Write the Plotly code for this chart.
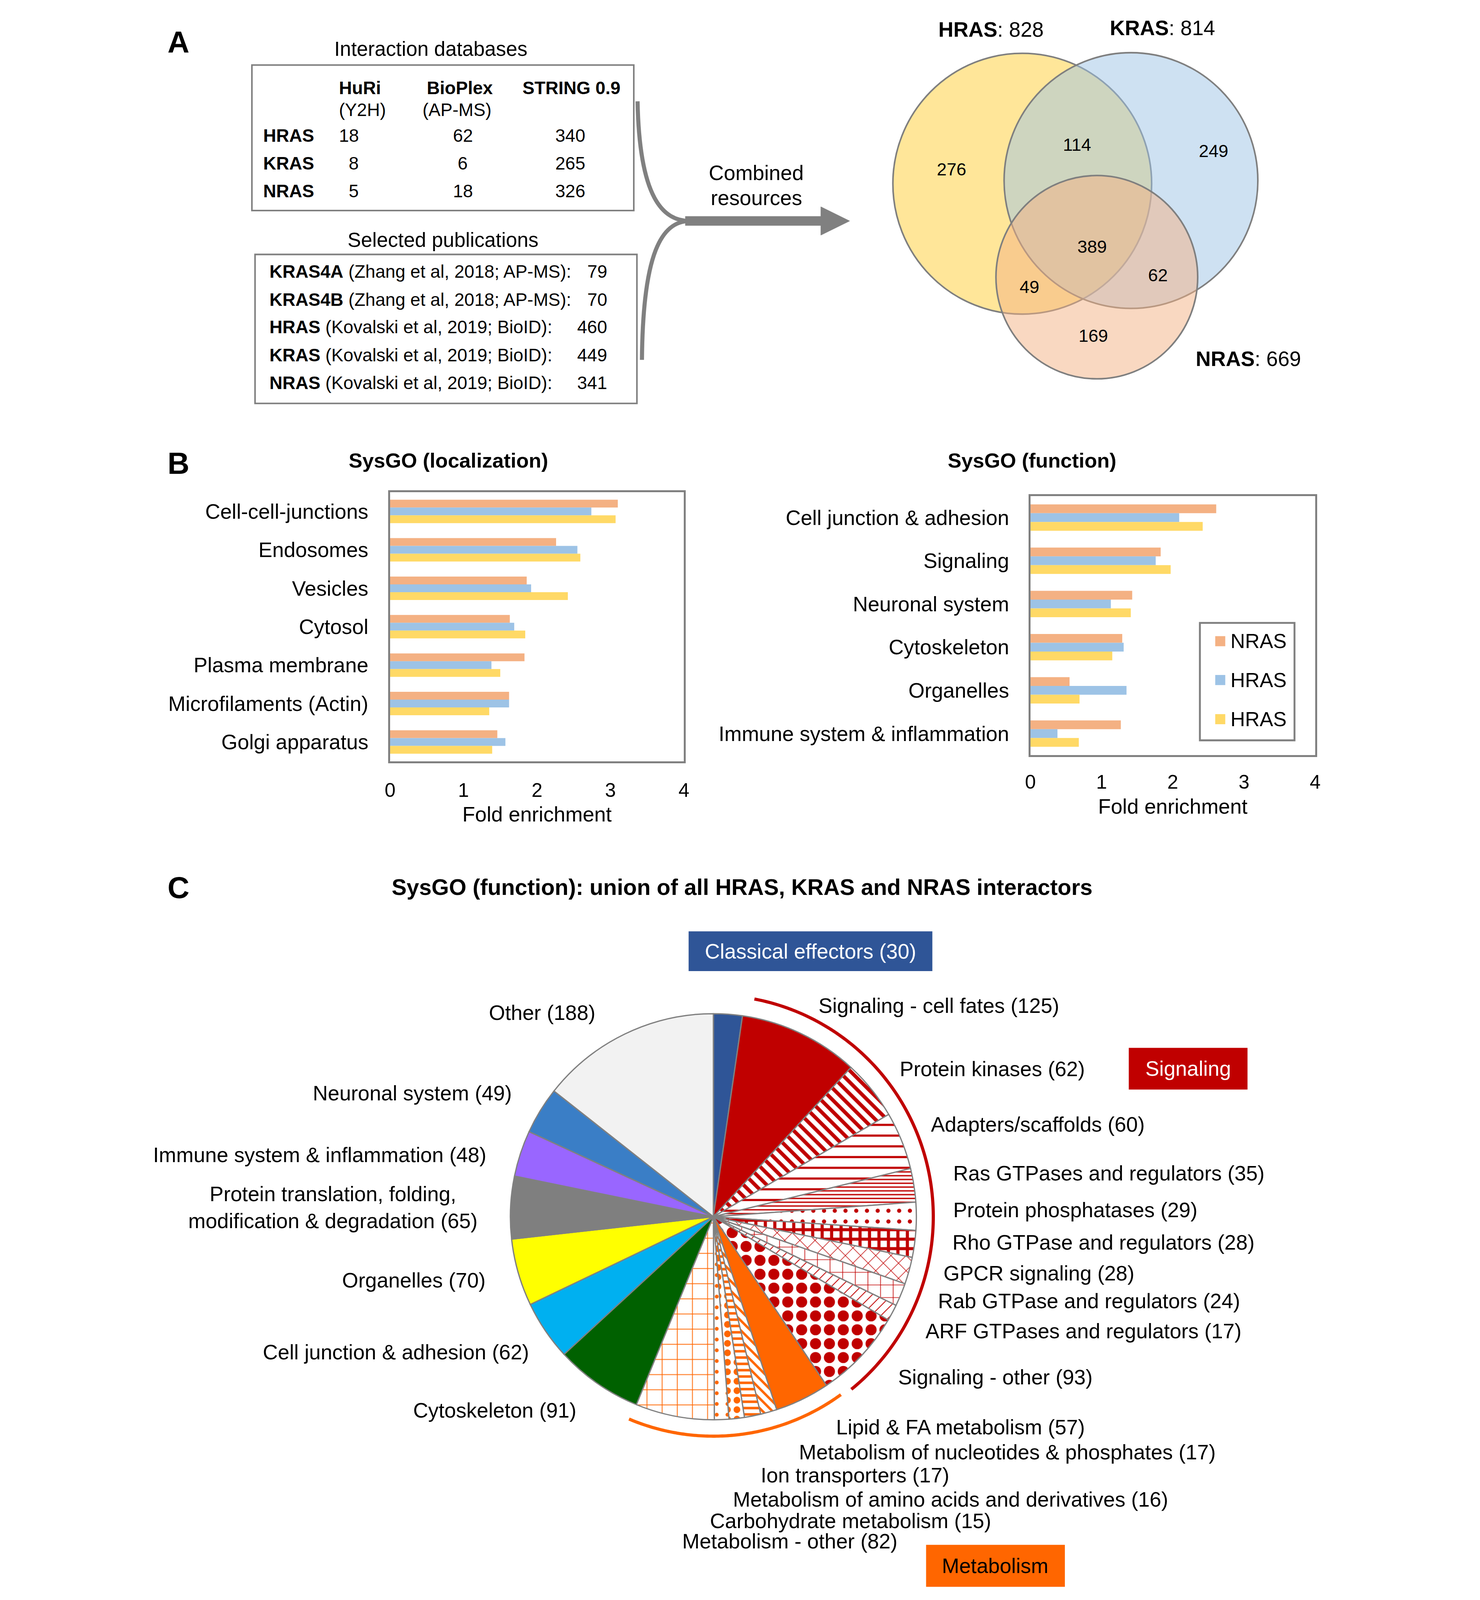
import numpy as np
import plotly.graph_objects as go

# The reference is 3790 x 5048; the page viewport is 4096 px tall, so the whole
# layout (designed in reference pixels) is scaled uniformly to fit it.
REF_W, REF_H = 3790, 5048
CW, CH = 3774, 4080
S = CH / REF_H
OX = (CW - REF_W * S) / 2.0
FONT = "Liberation Sans, Arial, Helvetica, sans-serif"

# ======================= DATA =======================
# Panel A - interaction databases
db_names = ["HuRi", "BioPlex", "STRING 0.9"]
db_methods = ["(Y2H)", "(AP-MS)", ""]
ras_isoforms = ["HRAS", "KRAS", "NRAS"]
huri_counts = [18, 8, 5]
bioplex_counts = [62, 6, 18]
string_counts = [340, 265, 326]

# Panel A - selected publications
pub_baits = ["KRAS4A", "KRAS4B", "HRAS", "KRAS", "NRAS"]
pub_refs = ["(Zhang et al, 2018; AP-MS):", "(Zhang et al, 2018; AP-MS):",
            "(Kovalski et al, 2019; BioID):", "(Kovalski et al, 2019; BioID):",
            "(Kovalski et al, 2019; BioID):"]
pub_counts = [79, 70, 460, 449, 341]

# Panel A - Venn diagram
venn_sets = ["HRAS", "KRAS", "NRAS"]
venn_totals = [828, 814, 669]
venn_regions = ["H", "HK", "K", "HKN", "HN", "KN", "N"]
venn_counts = [276, 114, 249, 389, 49, 62, 169]

# Panel B - SysGO localization
loc_categories = ["Cell-cell-junctions", "Endosomes", "Vesicles", "Cytosol",
                  "Plasma membrane", "Microfilaments (Actin)", "Golgi apparatus"]
loc_nras = [3.10, 2.26, 1.86, 1.63, 1.83, 1.62, 1.46]
loc_blue = [2.74, 2.55, 1.92, 1.69, 1.38, 1.62, 1.57]
loc_yellow = [3.07, 2.59, 2.42, 1.84, 1.50, 1.35, 1.39]

# Panel B - SysGO function
fun_categories = ["Cell junction & adhesion", "Signaling", "Neuronal system",
                  "Cytoskeleton", "Organelles", "Immune system & inflammation"]
fun_nras = [2.61, 1.83, 1.43, 1.29, 0.55, 1.27]
fun_blue = [2.09, 1.76, 1.13, 1.31, 1.35, 0.38]
fun_yellow = [2.42, 1.97, 1.41, 1.15, 0.69, 0.68]

series_names = ["NRAS", "HRAS", "HRAS"]
x_ticks = [0, 1, 2, 3, 4]

# Panel C - pie
pie_names = ["Classical effectors", "Signaling - cell fates", "Protein kinases",
             "Adapters/scaffolds", "Ras GTPases and regulators", "Protein phosphatases",
             "Rho GTPase and regulators", "GPCR signaling", "Rab GTPase and regulators",
             "ARF GTPases and regulators", "Signaling - other", "Lipid & FA metabolism",
             "Metabolism of nucleotides & phosphates", "Ion transporters",
             "Metabolism of amino acids and derivatives", "Carbohydrate metabolism",
             "Metabolism - other", "Cytoskeleton", "Cell junction & adhesion", "Organelles",
             "Protein translation, folding, modification & degradation",
             "Immune system & inflammation", "Neuronal system", "Other"]
pie_values = [30, 125, 62, 60, 35, 29, 28, 28, 24, 17, 93, 57, 17, 17, 16, 15, 82,
              91, 62, 70, 65, 48, 49, 188]
pie_group = ["Classical effectors"] + ["Signaling"] * 10 + ["Metabolism"] * 6 + [""] * 7

# ======================= STYLE =======================
def px(x):
    return (OX + x * S) / CW


def py(y):
    return 1 - (y * S) / CH


def fs(v):
    return v * S


def fi(v):
    return int(round(v * S))


bar_colors = ["#F4B183", "#9DC3E6", "#FFD966"]
GRAY = "#808080"
RED = "#C00000"
ORANGE = "#FF6600"

pie_colors = ["#2F5597", RED] + ["white"] * 9 + [ORANGE] + ["white"] * 5 + \
             ["#006100", "#00B0F0", "#FFFF00", "#7F7F7F", "#9966FF", "#3A7EC6", "#F2F2F2"]
pat_shape = ["", "", "\\", "-", "-", ".", "+", "x", "+", "/", ".", "",
             "\\", "-", ".", ".", "+", "", "", "", "", "", "", ""]
pat_fg = [RED] * 11 + [ORANGE] * 6 + ["black"] * 7
pat_size = [fs(v) for v in [10, 10, 26, 34, 12, 34, 30, 34, 40, 22, 44, 10,
                            22, 20, 30, 34, 48, 10, 10, 10, 10, 10, 10, 10]]
pat_solid = [0.3, 0.3, 0.45, 0.2, 0.35, 0.12, 0.55, 0.1, 0.1, 0.12, 0.5, 0.3,
             0.35, 0.4, 0.4, 0.1, 0.1, 0.3, 0.3, 0.3, 0.3, 0.3, 0.3, 0.3]

fig = go.Figure()

# ---- Panel B bars ----
for i, vals in enumerate([loc_nras, loc_blue, loc_yellow]):
    fig.add_trace(go.Bar(y=loc_categories, x=vals, orientation="h", name=series_names[i],
                         marker=dict(color=bar_colors[i], line=dict(width=0)),
                         showlegend=False, xaxis="x", yaxis="y"))
for i, vals in enumerate([fun_nras, fun_blue, fun_yellow]):
    fig.add_trace(go.Bar(y=fun_categories, x=vals, orientation="h", name=series_names[i],
                         marker=dict(color=bar_colors[i], line=dict(width=0)),
                         showlegend=False, xaxis="x2", yaxis="y2"))

# ---- Panel C pie ----
PC_X, PC_Y, PR = 1810, 3844, 648
fig.add_trace(go.Pie(
    labels=pie_names, values=pie_values, sort=False, direction="clockwise", rotation=0,
    textinfo="none", showlegend=False, hoverinfo="label+value",
    domain=dict(x=[px(PC_X - PR), px(PC_X + PR)], y=[py(PC_Y + PR), py(PC_Y - PR)]),
    marker=dict(colors=pie_colors, line=dict(color=GRAY, width=fs(4)),
                pattern=dict(shape=pat_shape, fgcolor=pat_fg, size=pat_size,
                             solidity=pat_solid, fillmode="overlay", fgopacity=1))))

annotations = []
shapes = []


def ann(x, y, text, size=66, xanchor="center", color="black", yanchor="middle", align="center"):
    annotations.append(dict(x=px(x), y=py(y), xref="paper", yref="paper", text=text,
                            showarrow=False, xanchor=xanchor, yanchor=yanchor, align=align,
                            font=dict(family=FONT, size=fs(size), color=color)))


# ---- Panel letters ----
ann(102, 124, "<b>A</b>", 96)
ann(103, 1458, "<b>B</b>", 96)
ann(102, 2801, "<b>C</b>", 96)

# ---- Panel A: table 1 ----
ann(908, 145, "Interaction databases", 64)
shapes.append(dict(type="rect", xref="paper", yref="paper", x0=px(337), x1=px(1556),
                   y0=py(657), y1=py(196), line=dict(color=GRAY, width=fs(5))))
col_x = [681, 1001, 1357]
for j, name in enumerate(db_names):
    ann(col_x[j], 269, "<b>%s</b>" % name, 57)
    if db_methods[j]:
        ann(col_x[j] + (9 if j == 0 else -9), 338, db_methods[j], 57)
row_y = [419, 507, 595]
for r, iso in enumerate(ras_isoforms):
    ann(370, row_y[r], "<b>%s</b>" % iso, 57, xanchor="left")
    ann(681, row_y[r], str(huri_counts[r]), 57, xanchor="right")
    ann(1010, row_y[r], str(bioplex_counts[r]), 57)
    ann(1353, row_y[r], str(string_counts[r]), 57)

# ---- Panel A: table 2 ----
ann(947, 750, "Selected publications", 64)
shapes.append(dict(type="rect", xref="paper", yref="paper", x0=px(347), x1=px(1566),
                   y0=py(1268), y1=py(796), line=dict(color=GRAY, width=fs(5))))
pub_y = [850, 939, 1026, 1115, 1202]
for k in range(len(pub_baits)):
    ann(391, pub_y[k], "<b>%s</b> %s" % (pub_baits[k], pub_refs[k]), 57, xanchor="left")
    ann(1474, pub_y[k], str(pub_counts[k]), 57, xanchor="right")

# ---- Panel A: arrow ----
shapes.append(dict(type="path", xref="paper", yref="paper",
                   path="M %f,%f C %f,%f %f,%f %f,%f" % (px(1568), py(311), px(1574), py(620),
                                                         px(1650), py(690), px(1735), py(690)),
                   line=dict(color=GRAY, width=fs(13))))
shapes.append(dict(type="path", xref="paper", yref="paper",
                   path="M %f,%f C %f,%f %f,%f %f,%f" % (px(1582), py(1130), px(1585), py(790),
                                                         px(1645), py(690), px(1735), py(690)),
                   line=dict(color=GRAY, width=fs(13))))
shapes.append(dict(type="line", xref="paper", yref="paper", x0=px(1720), x1=px(2160),
                   y0=py(690), y1=py(690), line=dict(color=GRAY, width=fs(30))))
shapes.append(dict(type="path", xref="paper", yref="paper",
                   path="M %f,%f L %f,%f L %f,%f Z" % (px(2153), py(645), px(2245), py(690),
                                                       px(2153), py(735)),
                   fillcolor=GRAY, line=dict(color=GRAY, width=1)))
ann(1947, 537, "Combined", 66)
ann(1947, 617, "resources", 66)

# ---- Panel A: Venn ----
venn_geom = {"HRAS": (2796, 572, 413), "KRAS": (3143, 562, 405), "NRAS": (3034, 868, 322)}
venn_fill = {"HRAS": "rgb(255,230,153)", "KRAS": "rgba(157,195,230,0.5)",
             "NRAS": "rgba(244,177,131,0.5)"}
for s in venn_sets:
    cx, cy, r = venn_geom[s]
    shapes.append(dict(type="circle", xref="paper", yref="paper", x0=px(cx - r), x1=px(cx + r),
                       y0=py(cy + r), y1=py(cy - r), fillcolor=venn_fill[s],
                       line=dict(color="#7F7F7F", width=fs(5))))
venn_label_pos = {"HRAS": (2697, 83), "KRAS": (3244, 79), "NRAS": (3518, 1127)}
for s, tot in zip(venn_sets, venn_totals):
    lx, ly = venn_label_pos[s]
    ann(lx, ly, "<b>%s</b>: %d" % (s, tot), 66)
region_pos = {"H": (2570, 526), "HK": (2971, 448), "K": (3407, 468), "HKN": (3019, 771),
              "HN": (2819, 899), "KN": (3229, 862), "N": (3023, 1053)}
for reg, cnt in zip(venn_regions, venn_counts):
    rx, ry = region_pos[reg]
    ann(rx, ry, str(cnt), 56)

# ---- Panel B titles ----
ann(964, 1448, "<b>SysGO (localization)</b>", 65)
ann(2828, 1448, "<b>SysGO (function)</b>", 65)

# ---- Panel B legend (box, swatches, labels) ----
shapes.append(dict(type="rect", xref="paper", yref="paper", x0=px(3363), x1=px(3665),
                   y0=py(2335), y1=py(1963), fillcolor="white",
                   line=dict(color=GRAY, width=fs(6))))
leg_y = [2021, 2144, 2268]
for i, nm in enumerate(series_names):
    shapes.append(dict(type="rect", xref="paper", yref="paper", x0=px(3412), x1=px(3444),
                       y0=py(leg_y[i] + 16), y1=py(leg_y[i] - 16), fillcolor=bar_colors[i],
                       line=dict(width=0)))
    ann(3458, leg_y[i], nm, 64, xanchor="left")

# ---- Panel C ----
ann(1902, 2800, "<b>SysGO (function): union of all HRAS, KRAS and NRAS interactors</b>", 71)

total = float(sum(pie_values))
cum = np.concatenate([[0], np.cumsum(pie_values)]) * 360.0 / total


def arc_path(a0, a1, R):
    t = np.radians(np.linspace(a0, a1, 120))
    xs = PC_X + R * np.sin(t)
    ys = PC_Y - R * np.cos(t)
    return "M " + " L ".join("%f,%f" % (px(a), py(b)) for a, b in zip(xs, ys))


sig = [i for i, g in enumerate(pie_group) if g == "Signaling"]
met = [i for i, g in enumerate(pie_group) if g == "Metabolism"]
shapes.append(dict(type="path", xref="paper", yref="paper",
                   path=arc_path(cum[sig[0]] + 2.5, cum[sig[-1] + 1] - 5, 702),
                   line=dict(color=RED, width=fs(10))))
shapes.append(dict(type="path", xref="paper", yref="paper",
                   path=arc_path(cum[met[0]] - 2, cum[met[-1] + 1] + 0.5, 695),
                   line=dict(color=ORANGE, width=fs(10))))

ce = pie_group.index("Classical effectors")
shapes.append(dict(type="rect", xref="paper", yref="paper", x0=px(1731), x1=px(2509),
                   y0=py(3066), y1=py(2940), fillcolor="#2F5597", line=dict(width=0)))
ann(2120, 3003, "%s (%d)" % (pie_names[ce], pie_values[ce]), 66, color="white")
shapes.append(dict(type="rect", xref="paper", yref="paper", x0=px(3136), x1=px(3515),
                   y0=py(3441), y1=py(3309), fillcolor=RED, line=dict(width=0)))
ann(3325, 3375, "Signaling", 66, color="white")
shapes.append(dict(type="rect", xref="paper", yref="paper", x0=px(2489), x1=px(2932),
                   y0=py(5016), y1=py(4883), fillcolor=ORANGE, line=dict(width=0)))
ann(2710, 4950, "Metabolism", 66, color="black")

label_pos = {
    "Signaling - cell fates": (2143, 3175, "left"),
    "Protein kinases": (2402, 3376, "left"),
    "Adapters/scaffolds": (2502, 3552, "left"),
    "Ras GTPases and regulators": (2573, 3706, "left"),
    "Protein phosphatases": (2573, 3822, "left"),
    "Rho GTPase and regulators": (2571, 3925, "left"),
    "GPCR signaling": (2542, 4023, "left"),
    "Rab GTPase and regulators": (2525, 4111, "left"),
    "ARF GTPases and regulators": (2485, 4206, "left"),
    "Signaling - other": (2397, 4352, "left"),
    "Lipid & FA metabolism": (2199, 4510, "left"),
    "Metabolism of nucleotides & phosphates": (2081, 4589, "left"),
    "Ion transporters": (1959, 4663, "left"),
    "Metabolism of amino acids and derivatives": (1870, 4739, "left"),
    "Carbohydrate metabolism": (1796, 4807, "left"),
    "Metabolism - other": (1708, 4872, "left"),
    "Cytoskeleton": (1375, 4457, "right"),
    "Cell junction & adhesion": (1225, 4273, "right"),
    "Organelles": (1086, 4045, "right"),
    "Protein translation, folding, modification & degradation": (596, 3814, "center"),
    "Immune system & inflammation": (1089, 3648, "right"),
    "Neuronal system": (1169, 3452, "right"),
    "Other": (1436, 3198, "right"),
}
for name, val in zip(pie_names, pie_values):
    if name not in label_pos:
        continue
    lx, ly, anc = label_pos[name]
    txt = "%s (%d)" % (name, val)
    txt = txt.replace("folding, modification", "folding,<br>modification")
    ann(lx, ly, txt, 66, xanchor=anc)

# ======================= LAYOUT =======================
axis_common = dict(showgrid=False, zeroline=False, showline=True, mirror=True,
                   linecolor=GRAY, linewidth=fs(6), ticks="")
fig.update_layout(
    width=CW, height=CH, autosize=False,
    margin=dict(l=0, r=0, t=0, b=0),
    paper_bgcolor="white", plot_bgcolor="white",
    font=dict(family=FONT, size=fs(66), color="black"),
    barmode="group", bargap=0.39, bargroupgap=0, showlegend=False,
    xaxis=dict(domain=[px(778), px(1716)], anchor="y", range=[0, 4], tickvals=x_ticks,
               tickfont=dict(size=fs(62)), ticklabelstandoff=fi(32),
               title=dict(text="Fold enrichment", font=dict(size=fs(66)), standoff=fi(22)),
               **axis_common),
    yaxis=dict(domain=[py(2401), py(1549)], anchor="x", autorange="reversed",
               tickfont=dict(size=fs(66)), ticklabelstandoff=fi(50), **axis_common),
    xaxis2=dict(domain=[px(2822), px(3731)], anchor="y2", range=[0, 4], tickvals=x_ticks,
                tickfont=dict(size=fs(62)), ticklabelstandoff=fi(26),
                title=dict(text="Fold enrichment", font=dict(size=fs(66)), standoff=fi(22)),
                **axis_common),
    yaxis2=dict(domain=[py(2382), py(1561)], anchor="x2", autorange="reversed",
                tickfont=dict(size=fs(66)), ticklabelstandoff=fi(48), **axis_common),
    annotations=annotations,
    shapes=shapes,
)

fig.write_html("out.html")
